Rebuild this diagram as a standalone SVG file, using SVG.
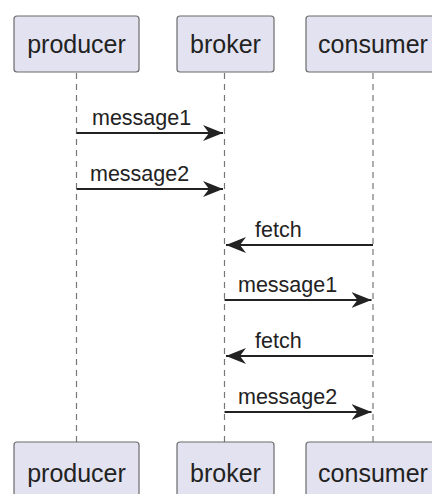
<svg xmlns="http://www.w3.org/2000/svg" width="432" height="494" viewBox="0 0 432 494">
<style>
.box{fill:#E2E2F0;stroke:#6a6a6a;stroke-width:1.2}
.pt{font-family:"Liberation Sans",Arial,sans-serif;font-size:25px;fill:#222;text-anchor:middle}
.life{stroke:#777;stroke-width:1.2;stroke-dasharray:6,5;fill:none}
.msg{stroke:#222;stroke-width:1.8;fill:none}
.lbl{font-family:"Liberation Sans",Arial,sans-serif;font-size:21.5px;fill:#222}
</style>
<defs>
<marker id="ah" viewBox="0 0 20 16" refX="20" refY="8" markerWidth="20" markerHeight="16" markerUnits="userSpaceOnUse" orient="auto">
<polygon points="0,0 20,8 0,16 6,8" fill="#222"/>
</marker>
</defs>
<g id="lifelines">
<line class="life" x1="76.5" y1="73" x2="76.5" y2="442"/>
<line class="life" x1="224.5" y1="73" x2="224.5" y2="442"/>
<line class="life" x1="373" y1="73" x2="373" y2="442"/>
</g>
<g id="producer">
<rect class="box" x="14" y="16" width="125" height="56" rx="3"/>
<text class="pt" x="76.5" y="53">producer</text>
<rect class="box" x="14" y="442" width="125" height="60" rx="3"/>
<text class="pt" x="76.5" y="482">producer</text>
</g>
<g id="broker">
<rect class="box" x="177" y="16" width="97" height="56" rx="3"/>
<text class="pt" x="225.5" y="53">broker</text>
<rect class="box" x="177" y="442" width="97" height="60" rx="3"/>
<text class="pt" x="225.5" y="482">broker</text>
</g>
<g id="consumer">
<rect class="box" x="306" y="16" width="134" height="56" rx="3"/>
<text class="pt" x="373" y="53">consumer</text>
<rect class="box" x="306" y="442" width="134" height="60" rx="3"/>
<text class="pt" x="373" y="482">consumer</text>
</g>
<g id="connectors">
<line class="msg" x1="76.5" y1="133" x2="223" y2="133" marker-end="url(#ah)"/>
<text class="lbl" x="92" y="125">message1</text>
<line class="msg" x1="76.5" y1="189" x2="223" y2="189" marker-end="url(#ah)"/>
<text class="lbl" x="90" y="181">message2</text>
<line class="msg" x1="373" y1="245" x2="226" y2="245" marker-end="url(#ah)"/>
<text class="lbl" x="255" y="237">fetch</text>
<line class="msg" x1="224.5" y1="300" x2="371.5" y2="300" marker-end="url(#ah)"/>
<text class="lbl" x="238" y="292">message1</text>
<line class="msg" x1="373" y1="356" x2="226" y2="356" marker-end="url(#ah)"/>
<text class="lbl" x="255" y="348">fetch</text>
<line class="msg" x1="224.5" y1="412" x2="371.5" y2="412" marker-end="url(#ah)"/>
<text class="lbl" x="238" y="404">message2</text>
</g>
</svg>
